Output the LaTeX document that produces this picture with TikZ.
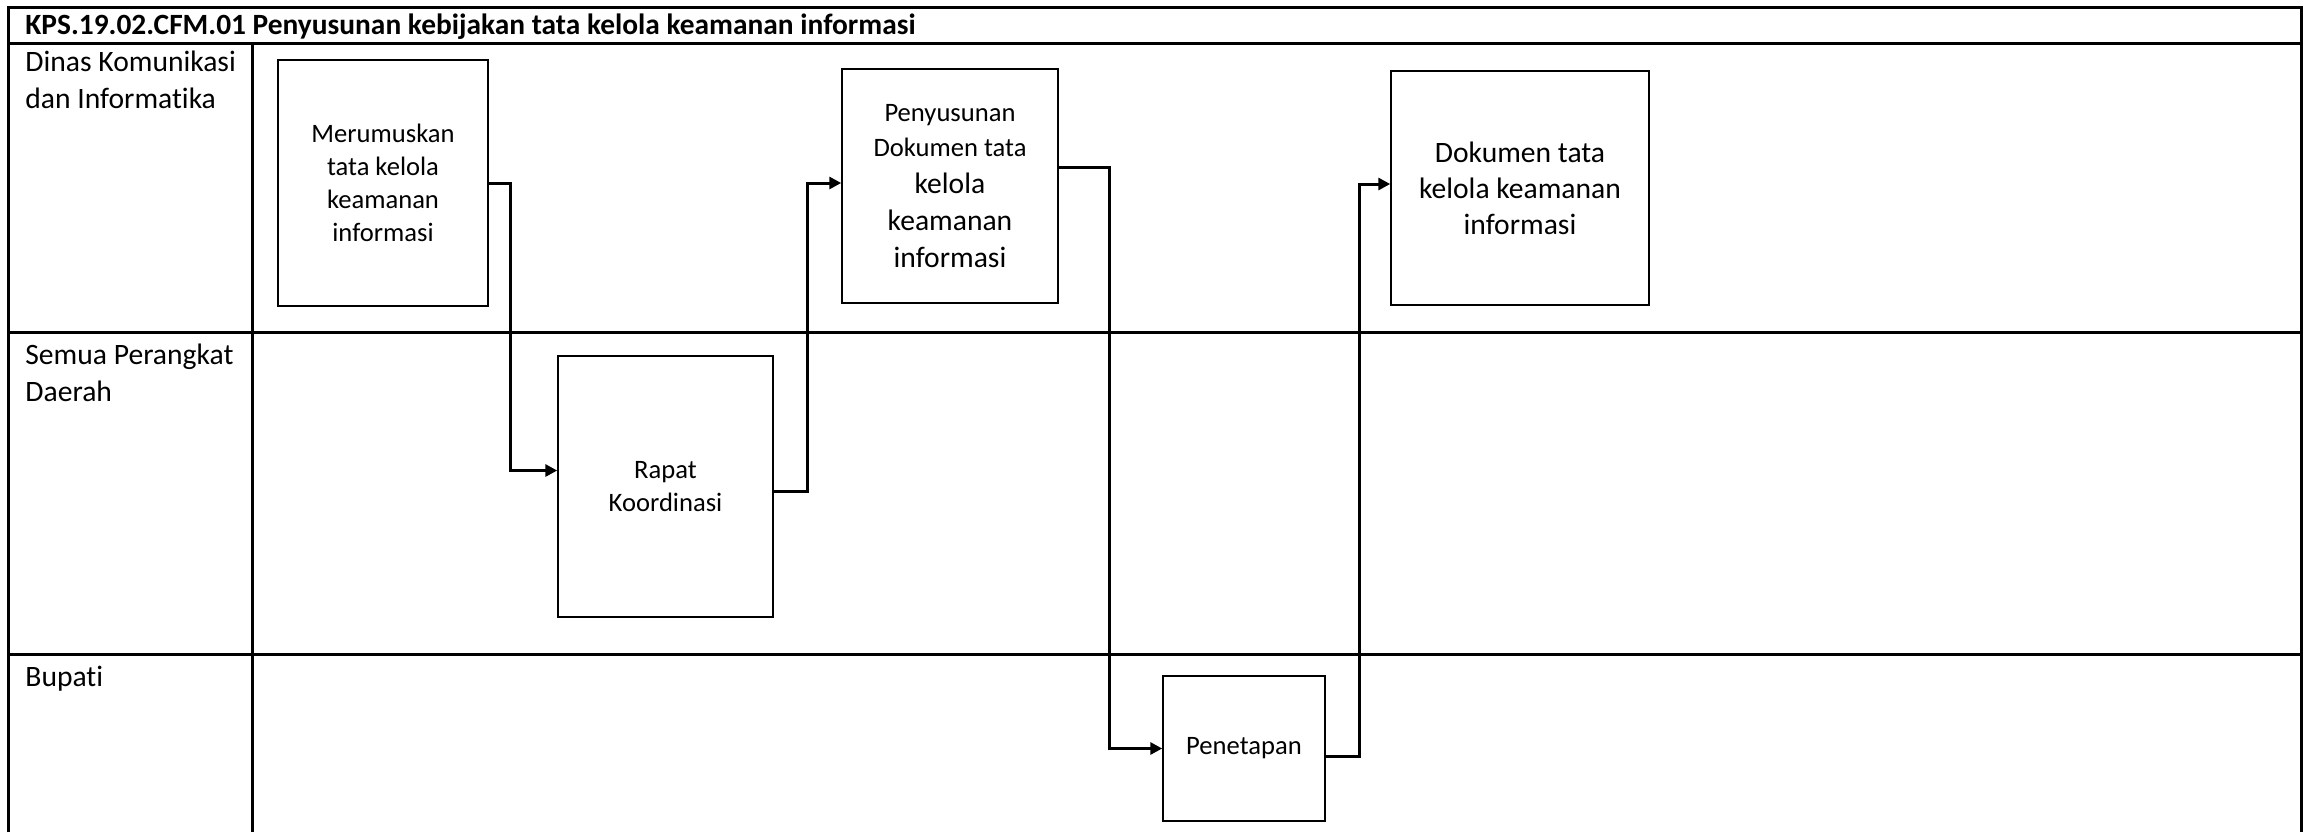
\documentclass[tikz,border=0pt]{standalone}
\usepackage{fontspec}
\setmainfont{Carlito}[Ligatures=NoCommon]
\usetikzlibrary{arrows.meta,calc}

\newcommand{\bigtxt}{\fontsize{14.8}{18}\selectfont}

\tikzset{
  task/.style={draw, line width=0.75pt, align=center, inner sep=2pt, font=\fontsize{13.3}{16.5}\selectfont},
  flow/.style={line width=1.5pt, -{Triangle[length=6pt,width=6pt]}},
  lane/.style={line width=1.5pt},
  lanelabel/.style={anchor=north west, align=left, inner sep=0pt, font=\fontsize{14.8}{18.5}\selectfont}
}

\begin{document}
\begin{tikzpicture}[x=0.5pt, y=-0.5pt]
            \useasboundingbox (0,0) rectangle (2304,832);
            % Draw frame and lanes
            \draw[lane] (8,832) -- (8,7) -- (2301,7) -- (2301,832);
            \draw[lane] (8,43) -- (2301,43);
            \draw[lane] (8,332) -- (2301,332);
            \draw[lane] (8,654) -- (2301,654);
            \draw[lane] (252,43) -- (252,832);
            % Add title
            \node[anchor=base west, inner sep=0pt, font=\bfseries\fontsize{14.7}{17}\selectfont] (title) at (25,34) {KPS.19.02.CFM.01 Penyusunan kebijakan tata kelola keamanan informasi};
            % Add lane labels
            \node[lanelabel] (dinas) at (25,51) {Dinas Komunikasi\\dan Informatika};
            \node[lanelabel] (semua) at (25,344) {Semua Perangkat\\Daerah};
            \node[lanelabel] (bupati) at (25,666) {Bupati};
            % Draw tasks
            \node[task, minimum width=105pt, minimum height=123pt] (merumuskan) at (383,183) {Merumuskan\\tata kelola\\keamanan\\informasi};
            \node[task, minimum width=107.5pt, minimum height=130.5pt] (rapat) at (665.5,486.5) {Rapat\\Koordinasi};
            \node[task, minimum width=108pt, minimum height=117pt] (penyusunan) at (950,186) {Penyusunan\\[1pt]Dokumen tata\\[2pt]\bigtxt kelola\\[2pt]\bigtxt keamanan\\[2pt]\bigtxt informasi};
            \node[task, minimum width=81pt, minimum height=72.5pt] (penetapan) at (1244,748.5) {Penetapan};
            \node[task, minimum width=129pt, minimum height=117pt, font=\bigtxt] (dokumen) at (1520,188) {Dokumen tata\\kelola keamanan\\informasi};
            % Draw flow
            \draw[flow] (merumuskan.east) -- ++(22,0) |- ($(rapat.west)+(0,-16)$);
            \draw[flow] ($(rapat.east)+(0,5)$) -- ++(34,0) |- ($(penyusunan.west)+(0,-3)$);
            \draw[flow] ($(penyusunan.east)+(0,-19)$) -- ++(51,0) |- (penetapan.west);
            \draw[flow] ($(penetapan.east)+(0,8)$) -- ++(34,0) |- ($(dokumen.west)+(0,-4)$);
        \end{tikzpicture}
\end{document}
